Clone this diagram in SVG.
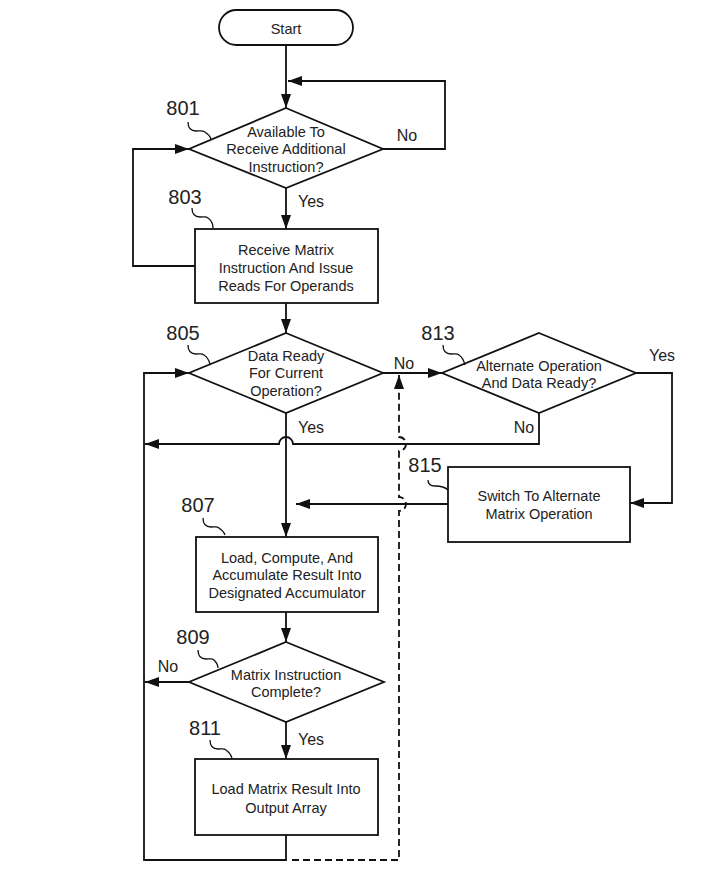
<svg xmlns="http://www.w3.org/2000/svg" width="710" height="869" viewBox="0 0 710 869">
<style>
  .shape{fill:#fff;stroke:#111;stroke-width:1.8}
  .ln{fill:none;stroke:#111;stroke-width:1.8}
  .dash{fill:none;stroke:#111;stroke-width:1.8;stroke-dasharray:7 4}
  .sq{fill:none;stroke:#111;stroke-width:1.3}
  .t{font-family:"Liberation Sans",Arial,Helvetica,sans-serif;font-size:14.5px;fill:#222;text-anchor:middle}
  .num{font-family:"Liberation Sans",Arial,Helvetica,sans-serif;font-size:20px;fill:#222;text-anchor:middle}
  .yn{font-family:"Liberation Sans",Arial,Helvetica,sans-serif;font-size:16px;fill:#222;text-anchor:middle}
</style>
<defs>
  <marker id="arr" viewBox="0 0 14 10" refX="14" refY="5" markerWidth="14" markerHeight="10" markerUnits="userSpaceOnUse" orient="auto">
    <path d="M0,0 L14,5 L0,10 Z" fill="#111"/>
  </marker>
</defs>
<rect width="710" height="869" fill="#fff"/>

<g id="connectors">
  <path class="ln" d="M286,45 V108" marker-end="url(#arr)"/>
  <path class="ln" d="M383,149 H445 V81 H288" marker-end="url(#arr)"/>
  <path class="ln" d="M286,188 V229" marker-end="url(#arr)"/>
  <path class="ln" d="M195,266 H133 V149 H189" marker-end="url(#arr)"/>
  <path class="ln" d="M286,303 V333" marker-end="url(#arr)"/>
  <path class="ln" d="M286,413 V537" marker-end="url(#arr)"/>
  <path class="ln" d="M383,373 H442" marker-end="url(#arr)"/>
  <path class="ln" d="M636,373 H672 V503 H630" marker-end="url(#arr)"/>
  <path class="ln" d="M539,413 V444 H293 a7,7 0 0 0 -14,0 H145" marker-end="url(#arr)"/>
  <path class="ln" d="M448,504 H296" marker-end="url(#arr)"/>
  <path class="ln" d="M286,612 V642" marker-end="url(#arr)"/>
  <path class="ln" d="M189,682 H145" marker-end="url(#arr)"/>
  <path class="ln" d="M286,722 V759" marker-end="url(#arr)"/>
  <path class="ln" d="M286,835 V860 H144 V373 H189" marker-end="url(#arr)"/>
  <path class="dash" d="M292,860 H399 V511 a7,7 0 0 0 0,-14 V451 a7,7 0 0 0 0,-14 V375" marker-end="url(#arr)"/>
  <text class="yn" x="407" y="141">No</text>
  <text class="yn" x="311" y="207">Yes</text>
  <text class="yn" x="404" y="369">No</text>
  <text class="yn" x="311" y="433">Yes</text>
  <text class="yn" x="662" y="361">Yes</text>
  <text class="yn" x="524" y="433">No</text>
  <text class="yn" x="168" y="672">No</text>
  <text class="yn" x="311" y="745">Yes</text>
</g>

<g id="start">
  <rect class="shape" x="219" y="10" width="134" height="35" rx="17.5" ry="17.5"/>
  <text class="t" x="286" y="34">Start</text>
</g>

<g id="n801">
  <polygon class="shape" points="286,108 383,149 286,188 189,149"/>
  <text class="t" x="286" y="137">Available To</text>
  <text class="t" x="286" y="154">Receive Additional</text>
  <text class="t" x="286" y="172">Instruction?</text>
  <text class="num" x="183" y="115">801</text>
  <path class="sq" d="M188,122 c0,6 3,9 8,9 c4,0 6,-1 9,1 c3,2 5,4 6,7"/>
</g>

<g id="n803">
  <rect class="shape" x="195" y="229" width="183" height="74"/>
  <text class="t" x="286" y="255">Receive Matrix</text>
  <text class="t" x="286" y="273">Instruction And Issue</text>
  <text class="t" x="286" y="291">Reads For Operands</text>
  <text class="num" x="185" y="204">803</text>
  <path class="sq" d="M192,208 c0,6 3,9 8,9 c4,0 6,-1 8,1 c3,2 5,6 5,10"/>
</g>

<g id="n805">
  <polygon class="shape" points="286,333 383,373 286,413 189,373"/>
  <text class="t" x="286" y="361">Data Ready</text>
  <text class="t" x="286" y="378">For Current</text>
  <text class="t" x="286" y="396">Operation?</text>
  <text class="num" x="183" y="340">805</text>
  <path class="sq" d="M188,345 c0,6 3,9 8,9 c4,0 6,-1 8,1 c3,2 5,5 6,9"/>
</g>

<g id="n813">
  <polygon class="shape" points="539,333 636,373 539,413 442,373"/>
  <text class="t" x="539" y="371">Alternate Operation</text>
  <text class="t" x="539" y="388">And Data Ready?</text>
  <text class="num" x="438" y="340">813</text>
  <path class="sq" d="M443,345 c0,6 3,9 8,9 c4,0 6,-1 8,1 c3,2 5,6 6,10"/>
</g>

<g id="n815">
  <rect class="shape" x="448" y="467" width="182" height="75"/>
  <text class="t" x="539" y="501">Switch To Alternate</text>
  <text class="t" x="539" y="519">Matrix Operation</text>
  <text class="num" x="425" y="472">815</text>
  <path class="sq" d="M428,480 c0,4 3,6 7,6 c5,0 10,1 13,4"/>
</g>

<g id="n807">
  <rect class="shape" x="196" y="537" width="182" height="75"/>
  <text class="t" x="287" y="563">Load, Compute, And</text>
  <text class="t" x="287" y="580">Accumulate Result Into</text>
  <text class="t" x="287" y="598">Designated Accumulator</text>
  <text class="num" x="198" y="512">807</text>
  <path class="sq" d="M203,518 c0,6 3,9 8,9 c4,0 6,-1 8,1 c3,2 5,4 6,7"/>
</g>

<g id="n809">
  <polygon class="shape" points="286,642 384,682 286,722 189,682"/>
  <text class="t" x="286" y="680">Matrix Instruction</text>
  <text class="t" x="286" y="697">Complete?</text>
  <text class="num" x="193" y="644">809</text>
  <path class="sq" d="M198,650 c0,6 3,9 8,9 c4,0 6,-1 8,1 c2,2 4,5 4,8"/>
</g>

<g id="n811">
  <rect class="shape" x="195" y="759" width="183" height="76"/>
  <text class="t" x="286" y="794">Load Matrix Result Into</text>
  <text class="t" x="286" y="813">Output Array</text>
  <text class="num" x="205" y="735">811</text>
  <path class="sq" d="M210,740 c0,6 3,9 8,9 c4,0 6,-1 8,1 c3,2 5,5 6,8"/>
</g>
</svg>
